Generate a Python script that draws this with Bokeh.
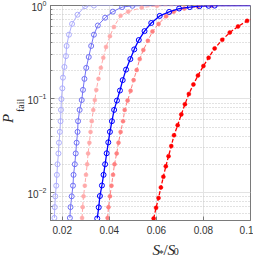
import math
from bokeh.plotting import figure
from bokeh.models import FixedTicker, LogTicker, Title
from bokeh.layouts import column
from bokeh.core.properties import value
from bokeh.embed import file_html
from bokeh.resources import INLINE

# ---------------- data ----------------
X_RANGE = (0.015, 0.1)
Y_RANGE = (0.005, 1.0)
X_TICKS = [0.02, 0.04, 0.06, 0.08, 0.1]
X_TICK_LABELS = ["0.02", "0.04", "0.06", "0.08", "0.1"]

S1_X = [0.01666, 0.01682, 0.01705, 0.01744, 0.01771, 0.01798, 0.01837, 0.0186, 0.01898, 0.01926,
        0.01945, 0.01964, 0.02003, 0.0203, 0.02092, 0.02158, 0.02185, 0.02285, 0.02417, 0.02649,
        0.0297, 0.03345]
S1_P = [0.00533, 0.00695, 0.00907, 0.0118, 0.0154, 0.0200, 0.0261, 0.0340, 0.0444, 0.0578,
        0.0763, 0.0995, 0.130, 0.169, 0.220, 0.287, 0.369, 0.487, 0.635, 0.797,
        0.984, 0.999]
S1_END = (0.0417, 1.0)

S2_X = [0.02324, 0.02351, 0.02401, 0.02456, 0.02479, 0.02533, 0.02572, 0.0261, 0.02649, 0.02672,
        0.02738, 0.02827, 0.02881, 0.02943, 0.0302, 0.03125, 0.03229, 0.03345, 0.03512, 0.03821,
        0.0415, 0.04544, 0.04982]
S2_P = [0.00533, 0.00695, 0.00907, 0.0118, 0.0154, 0.0200, 0.0261, 0.0340, 0.0444, 0.0578,
        0.0763, 0.0973, 0.125, 0.164, 0.215, 0.281, 0.369, 0.487, 0.611, 0.740,
        0.859, 0.962, 0.993]
S2_END = (0.07, 1.0)

S3_X = [0.02842, 0.02866, 0.02904, 0.02958, 0.03009, 0.03059, 0.03098, 0.03152, 0.03202, 0.03252,
        0.03318, 0.03384, 0.03446, 0.03539, 0.03639, 0.03744, 0.0386, 0.04026, 0.04196, 0.04479,
        0.048, 0.0538, 0.06026]
S3_P = [0.00533, 0.00695, 0.00907, 0.0118, 0.0154, 0.0200, 0.0261, 0.0340, 0.0444, 0.0578,
        0.0763, 0.0973, 0.125, 0.164, 0.215, 0.276, 0.360, 0.470, 0.589, 0.779,
        0.859, 0.949, 0.993]
S3_END = (0.1, 1.0)

S4_X = [0.03485, 0.0355, 0.036, 0.03686, 0.03755, 0.03821, 0.03887, 0.03956, 0.04026, 0.04111,
        0.04204, 0.04324, 0.04452, 0.04568, 0.04711, 0.04893, 0.05059, 0.05252, 0.05496, 0.05782,
        0.06142, 0.06541, 0.06966, 0.07419, 0.07833, 0.0822, 0.08475]
S4_P = [0.00526, 0.00691, 0.00914, 0.01185, 0.0154, 0.0200, 0.0262, 0.0343, 0.0444, 0.0578,
        0.0763, 0.0960, 0.123, 0.159, 0.206, 0.267, 0.339, 0.427, 0.532, 0.650,
        0.774, 0.853, 0.928, 0.962, 0.984, 0.993, 0.997]
S4_END = (0.1, 1.0)

S5_X = [0.03926, 0.03964, 0.04026, 0.04092, 0.04158, 0.0422, 0.04312, 0.0439, 0.04479, 0.04583,
        0.04653, 0.04777, 0.04904, 0.05032, 0.05163, 0.05291, 0.05446, 0.05639, 0.05833, 0.06092,
        0.06413, 0.06734, 0.07187, 0.07767, 0.08347]
S5_P = [0.00533, 0.00695, 0.00907, 0.0118, 0.0154, 0.0200, 0.0261, 0.0340, 0.0444, 0.0578,
        0.0763, 0.0960, 0.122, 0.159, 0.204, 0.267, 0.334, 0.419, 0.526, 0.635,
        0.767, 0.859, 0.930, 0.970, 0.993]
S5_END = (0.1, 1.0)

S6_X = [0.05883, 0.05987, 0.06092, 0.06192, 0.06297, 0.06401, 0.06517, 0.06633, 0.0675, 0.06904,
        0.07059, 0.07214, 0.0738, 0.07574, 0.07767, 0.07999, 0.0822, 0.08475, 0.088, 0.09121,
        0.09469, 0.09856]
S6_P = [0.00526, 0.00684, 0.00873, 0.0113, 0.0147, 0.0190, 0.0244, 0.0313, 0.0408, 0.0524,
        0.0683, 0.0877, 0.113, 0.143, 0.178, 0.225, 0.276, 0.347, 0.429, 0.514,
        0.597, 0.685]
S6_END = (0.1, 0.71)

SERIES = [
    (S1_X, S1_P, S1_END, dict(color="#aeaefc", dash="solid", kind="open", lw=1.0)),
    (S2_X, S2_P, S2_END, dict(color="#7272f5", dash="solid", kind="open", lw=1.0)),
    (S3_X, S3_P, S3_END, dict(color="#ffaaaa", dash="4 2", kind="dot", lw=1.0)),
    (S5_X, S5_P, S5_END, dict(color="#ff8080", dash="4 2", kind="dot", lw=1.0)),
    (S4_X, S4_P, S4_END, dict(color="#0000ff", dash="solid", kind="open", lw=1.3)),
    (S6_X, S6_P, S6_END, dict(color="#ff0000", dash="4 2", kind="dot", lw=1.3)),
]

FULL_W = 253
MAIN_H = 238
XLAB_H = 20
BORDER_TOP = 5
BORDER_BOTTOM = 18
TXT = "#262626"

p = figure(width=FULL_W, height=MAIN_H, x_range=X_RANGE, y_range=Y_RANGE, y_axis_type="log",
           output_backend="svg", toolbar_location=None,
           min_border_left=10, min_border_right=3, min_border_top=BORDER_TOP,
           min_border_bottom=BORDER_BOTTOM)
p.outline_line_color = "#7a7a7a"

for xs, ps, end, st in SERIES:
    lx = list(xs) + [end[0]]
    ly = list(ps) + [end[1]]
    p.line(lx, ly, line_color=st["color"], line_width=st["lw"], line_dash=st["dash"])
    if st["kind"] == "open":
        p.scatter(xs, ps, marker="circle", size=5, fill_color=None,
                  line_color=st["color"], line_width=1)
    else:
        p.scatter(xs, ps, marker="circle", size=4, fill_color=st["color"],
                  line_color=st["color"], line_width=0.5)

p.xaxis.ticker = FixedTicker(ticks=X_TICKS, minor_ticks=[])
p.xaxis.major_label_overrides = {t: l for t, l in zip(X_TICKS, X_TICK_LABELS)}
p.yaxis.ticker = LogTicker(num_minor_ticks=10)
for ax in (p.xaxis[0], p.yaxis[0]):
    ax.axis_line_color = "#7a7a7a"
    ax.major_tick_line_color = "#7a7a7a"
    ax.minor_tick_line_color = "#7a7a7a"
    ax.major_tick_in = 4
    ax.major_tick_out = 0
    ax.minor_tick_in = 2
    ax.minor_tick_out = 0
    ax.major_label_text_font = "Liberation Sans"
    ax.major_label_text_font_size = "10px"
    ax.major_label_text_color = "#333333"
p.xaxis.major_label_standoff = 5
p.yaxis.major_label_standoff = 4

p.xgrid.grid_line_color = "#e3e3e3"
p.ygrid.grid_line_color = "#e3e3e3"
p.ygrid.minor_grid_line_color = "#c4c4c4"
p.ygrid.minor_grid_line_dash = "1 2"

# y label  P_fail : two titles in the left panel, placed from the bottom of the frame
half = (MAIN_H - BORDER_TOP - BORDER_BOTTOM) / 2.0
p.add_layout(Title(text="fail", align="left", offset=half + 1, standoff=-2,
                   text_font="Liberation Serif", text_font_style="normal",
                   text_font_size="10px", text_color=TXT), "left")
p.add_layout(Title(text="P", align="left", offset=half - 10, standoff=-5,
                   text_font="Liberation Serif", text_font_style="italic",
                   text_font_size="15px", text_color=TXT), "left")


def blank(w, h):
    f = figure(width=w, height=h, x_range=(0, w), y_range=(0, h), output_backend="svg",
               toolbar_location=None, min_border=0, x_axis_location=None, y_axis_location=None)
    f.grid.visible = False
    f.outline_line_color = None
    return f


# x label  S_*/S_0
xl = blank(FULL_W, XLAB_H)
xc = 145
pieces = [("S", -16, 9, "italic", "15px"), ("*", -8, 5, "normal", "10px"),
          ("/", -2, 9, "normal", "15px"), ("S", 3, 9, "italic", "15px"),
          ("0", 11, 7, "normal", "10px")]
for txt, dx, yy, style, size in pieces:
    xl.text(x=[xc + dx], y=[yy], text=[txt], text_align="left", text_baseline="alphabetic",
            text_font=value("Liberation Serif"), text_font_style=style, text_font_size=size,
            text_color=TXT)

layout = column(p, xl, spacing=0)
open("out.html", "w").write(file_html(layout, INLINE))
